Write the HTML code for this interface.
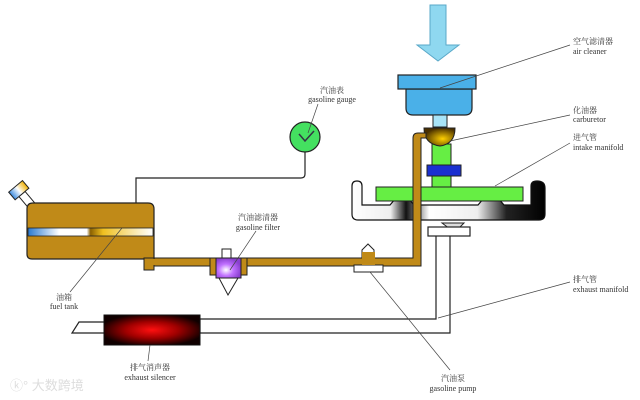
<!DOCTYPE html>
<html><head><meta charset="utf-8"><style>
html,body{margin:0;padding:0;background:#fff;}
svg{display:block}
text{font-family:"Liberation Serif","Noto Serif CJK SC",serif;fill:#333;font-size:8px}
</style></head><body>
<svg width="640" height="400" viewBox="0 0 640 400" xmlns="http://www.w3.org/2000/svg">
<defs>
<linearGradient id="dish" x1="0" x2="1" y1="0" y2="0">
<stop offset="0" stop-color="#fff"/><stop offset="0.2" stop-color="#eee"/><stop offset="0.28" stop-color="#111"/><stop offset="0.4" stop-color="#fff"/><stop offset="0.65" stop-color="#eee"/><stop offset="0.8" stop-color="#222"/><stop offset="1" stop-color="#000"/></linearGradient>
<radialGradient id="sil" cx="0.5" cy="0.5" r="0.55"><stop offset="0" stop-color="#ff1010"/><stop offset="0.5" stop-color="#a00000"/><stop offset="1" stop-color="#100000"/></radialGradient>
<radialGradient id="carb" cx="0.6" cy="0.6" r="0.6"><stop offset="0" stop-color="#ffd000"/><stop offset="1" stop-color="#4a3000"/></radialGradient>
<radialGradient id="filt" cx="0.4" cy="0.6" r="0.6"><stop offset="0" stop-color="#fff"/><stop offset="0.5" stop-color="#c070ff"/><stop offset="1" stop-color="#8a40d0"/></radialGradient>
<linearGradient id="strip" x1="0" x2="1"><stop offset="0" stop-color="#2a7ad0"/><stop offset="0.25" stop-color="#fff"/><stop offset="0.47" stop-color="#fff"/><stop offset="0.5" stop-color="#8a6000"/><stop offset="0.6" stop-color="#f0c020"/><stop offset="1" stop-color="#fff"/></linearGradient>
<linearGradient id="cap" x1="0" x2="1"><stop offset="0" stop-color="#3a8ae0"/><stop offset="0.5" stop-color="#fff"/><stop offset="1" stop-color="#f0b000"/></linearGradient>
</defs>

<path d="M430,5 H446 V45 H459 L438,61 L417,45 H430 Z" fill="#8fd8f0" stroke="#5aa8c8" stroke-width="1"/>
<path d="M406,89 H472 V108 Q472,115 465,115 H413 Q406,115 406,108 Z" fill="#4ab0e8" stroke="#222" stroke-width="1.2"/>
<rect x="398" y="75" width="78" height="14" fill="#4ab0e8" stroke="#222" stroke-width="1.2"/>
<rect x="433" y="115" width="14" height="12" fill="#a8e4f8" stroke="#222"/>
<rect x="432" y="144" width="19" height="44" fill="#66ee44" stroke="#222"/>
<rect x="427" y="165" width="34" height="11" fill="#1a30d0" stroke="#222"/>
<path d="M352,186 Q352,181 357,181 Q362,181 362,186 V205 H390 L396,198 H408 L414,205 H478 L484,198 H498 L504,205 H531 V186 Q531,181 537,181 Q545,181 545,188 V214 Q545,220 539,220 H358 Q352,220 352,214 Z" fill="url(#dish)" stroke="#111" stroke-width="1.2"/>
<rect x="376" y="187" width="147" height="14" fill="#66ee44" stroke="#222"/>
<path d="M424,128 H455 Q455,144 440,146 Q424,144 424,128 Z" fill="url(#carb)" stroke="#222"/>
<path d="M436,236 V319 H200 V333 H450 V236" fill="#fff" stroke="#222" stroke-width="1.2"/>
<path d="M442,223 L450,229 H458 L464,223 Z" fill="#ddd" stroke="#222"/>
<rect x="428" y="227" width="42" height="9" fill="#fff" stroke="#222" stroke-width="1.2"/>
<path d="M104,322 H79 L72,333 H104" fill="#fff" stroke="#222" stroke-width="1.2"/>
<rect x="104" y="315" width="96" height="30" fill="url(#sil)" stroke="#111"/>
<path d="M144,258 H413 V138 Q413,133 418,133 H426 V138 H421 V266 H144 Z" fill="#c08a18" stroke="#222" stroke-width="1"/>
<g transform="translate(22,194) rotate(-40)">
<rect x="-4" y="0" width="8" height="16" fill="#fff" stroke="#222"/>
<rect x="-9" y="-10" width="18" height="10" fill="url(#cap)" stroke="#222"/>
</g>
<path d="M33,203 H148 Q154,203 154,209 V259 H32 Q27,259 27,254 V209 Q27,203 33,203 Z" fill="#c08a18" stroke="#222" stroke-width="1.2"/>
<rect x="144" y="258" width="10" height="12" fill="#c08a18" stroke="#222"/>
<rect x="145" y="259" width="12" height="6" fill="#c08a18"/>
<rect x="28" y="228" width="125" height="8" fill="url(#strip)" stroke="#222" stroke-width="0.8"/>
<path d="M136,203 V178 H301 Q305,178 305,174 V152" fill="none" stroke="#222" stroke-width="1.2"/>
<circle cx="305" cy="137" r="15" fill="#44e060" stroke="#222" stroke-width="1.2"/>
<path d="M299,134 L305,141 L314,131" fill="none" stroke="#334" stroke-width="1.5"/>
<rect x="210" y="258" width="37" height="17" fill="#c08a18" stroke="#222"/>
<rect x="222" y="249" width="9" height="9" fill="#fff" stroke="#222"/>
<rect x="216" y="258" width="25" height="20" fill="url(#filt)" stroke="#222"/>
<path d="M219,278 H238 L228,295 Z" fill="#fff" stroke="#222"/>
<rect x="354" y="265" width="29" height="7" fill="#fff" stroke="#222"/>
<path d="M362,258 V250 L368,244 L374,250 V258" fill="#fff" stroke="#222"/>
<rect x="362" y="252" width="13" height="13" fill="#c08a18"/>
<g stroke="#444" stroke-width="0.7" fill="none">
<line x1="570" y1="45" x2="440" y2="88"/>
<line x1="570" y1="115" x2="450" y2="141"/>
<line x1="570" y1="143" x2="495" y2="186"/>
<line x1="318" y1="104" x2="308" y2="133"/>
<line x1="256" y1="231" x2="230" y2="270"/>
<line x1="122" y1="228" x2="70" y2="292"/>
<line x1="150" y1="345" x2="148" y2="361"/>
<line x1="370" y1="272" x2="450" y2="370"/>
<line x1="570" y1="282" x2="438" y2="318"/>
</g>
<text x="573" y="44">空气滤清器</text><text x="573" y="54">air cleaner</text>
<text x="573" y="113">化油器</text><text x="573" y="122">carburetor</text>
<text x="573" y="140">进气管</text><text x="573" y="150">intake manifold</text>
<text x="332" y="93" text-anchor="middle">汽油表</text><text x="332" y="102" text-anchor="middle">gasoline gauge</text>
<text x="258" y="220" text-anchor="middle">汽油滤清器</text><text x="258" y="230" text-anchor="middle">gasoline filter</text>
<text x="64" y="300" text-anchor="middle">油箱</text><text x="64" y="309" text-anchor="middle">fuel tank</text>
<text x="150" y="370" text-anchor="middle">排气消声器</text><text x="150" y="380" text-anchor="middle">exhaust silencer</text>
<text x="453" y="381" text-anchor="middle">汽油泵</text><text x="453" y="391" text-anchor="middle">gasoline pump</text>
<text x="573" y="282">排气管</text><text x="573" y="292">exhaust manifold</text>
<text x="10" y="390" style="font-family:'Liberation Sans','Noto Sans CJK SC',sans-serif;font-size:13px;fill:#ddd">ⓚ° 大数跨境</text>
</svg>
</body></html>
